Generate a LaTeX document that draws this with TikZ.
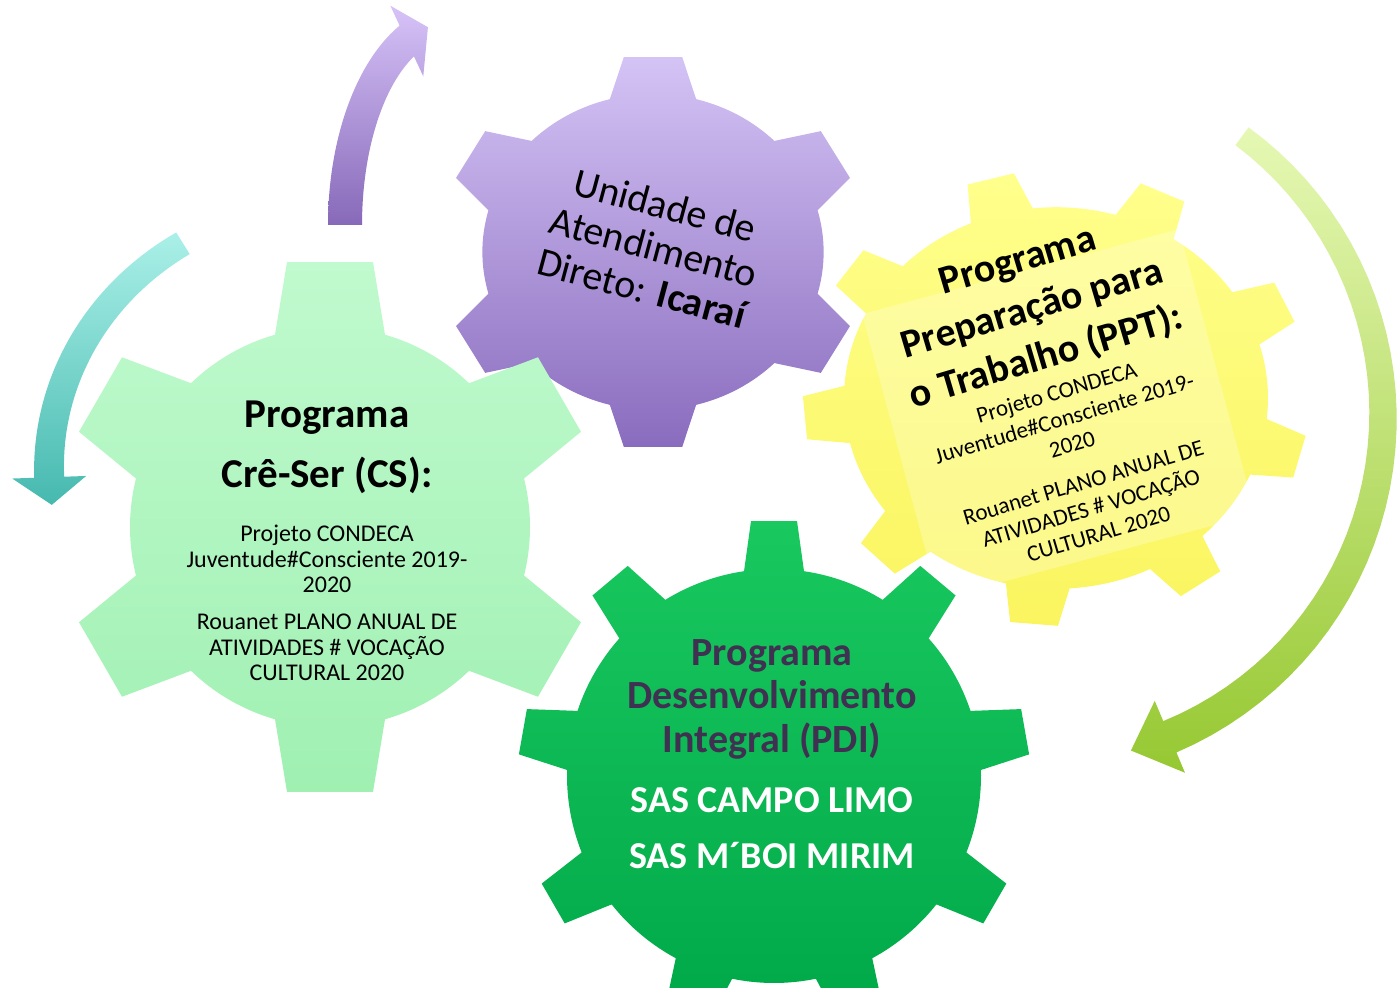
\documentclass[tikz,border=0pt]{standalone}
\usepackage{fontspec}
\setmainfont{Carlito}

\definecolor{csTop}{RGB}{192,250,206}
\definecolor{csBot}{RGB}{160,240,178}
\definecolor{puTop}{RGB}{212,195,245}
\definecolor{puBot}{RGB}{138,108,190}
\definecolor{yeTop}{RGB}{255,255,140}
\definecolor{yeBot}{RGB}{250,245,95}
\definecolor{dgTop}{RGB}{25,200,95}
\definecolor{dgBot}{RGB}{0,168,72}
\definecolor{pdiText}{RGB}{64,49,82}
\definecolor{tealTop}{RGB}{170,240,232}
\definecolor{tealBot}{RGB}{70,185,175}
\definecolor{paTop}{RGB}{215,195,248}
\definecolor{paBot}{RGB}{135,105,185}
\definecolor{lgTop}{RGB}{230,248,180}
\definecolor{lgBot}{RGB}{150,200,50}

% gear: #1 style, #2 teeth, #3 first tooth angle, #4 root radius,
% #5 tip radius, #6 half width at root, #7 half width at tip
\newcommand{\gear}[7]{%
  \pgfmathsetmacro\gearstep{360/#2}%
  \pgfmathsetmacro\gearbase{asin(#6/#4)}%
  \pgfmathsetmacro\geartip{atan(#7/#5)}%
  \pgfmathsetmacro\geartipr{veclen(#5,#7)}%
  \pgfmathtruncatemacro\gearlast{#2-1}%
  \path[#1] ({#3-\gearbase}:#4)
    \foreach \k in {0,...,\gearlast}{
      -- ({#3+\k*\gearstep-\gearbase}:#4)
      -- ({#3+\k*\gearstep-\geartip}:\geartipr)
      -- ({#3+\k*\gearstep+\geartip}:\geartipr)
      -- ({#3+\k*\gearstep+\gearbase}:#4)
      arc[start angle={#3+\k*\gearstep+\gearbase},
          end angle={#3+(\k+1)*\gearstep-\gearbase}, radius=#4]
    } -- cycle;}

% bent arrow: [#1 tail/head width ratio] #2 style, #3 x radius, #4 y radius,
% #5 tail angle, #6 head angle, #7 tip angle, #8 half width at head
\newcommand{\bentarrow}[8][1]{%
  \path[#2] plot[samples=40,domain=#5:#6,variable=\t]
      ({(#3+#8*(#1+(1-#1)*(\t-(#5))/((#6)-(#5))))*cos(\t)},
       {(#4+#8*(#1+(1-#1)*(\t-(#5))/((#6)-(#5))))*sin(\t)})
    -- ({(#3+#8+22)*cos(#6)},{(#4+#8+22)*sin(#6)})
    -- ({#3*cos(#7)},{#4*sin(#7)})
    -- ({(#3-#8-22)*cos(#6)},{(#4-#8-22)*sin(#6)})
    -- plot[samples=40,domain=#6:#5,variable=\t]
      ({(#3-#8*(#1+(1-#1)*(\t-(#5))/((#6)-(#5))))*cos(\t)},
       {(#4-#8*(#1+(1-#1)*(\t-(#5))/((#6)-(#5))))*sin(\t)})
    -- cycle;}

\begin{document}
\begin{tikzpicture}[x=0.5pt,y=0.5pt,
    gtxt/.style={align=center,inner sep=0pt},
    bigbold/.style={gtxt,font=\bfseries\fontsize{20.5pt}{30pt}\selectfont},
    smalltxt/.style={gtxt,font=\fontsize{12pt}{12.75pt}\selectfont},
    ppttxt/.style={gtxt,font=\fontsize{11.5pt}{13.5pt}\selectfont}]
  \path[use as bounding box,clip] (0,0) rectangle (1400,987);

  % arrows round the gears
  \bentarrow{shift={(452,762)},top color=paTop,bottom color=paBot}{107}{203}{180}{115}{103}{17}
  \bentarrow[0.85]{shift={(334,519)},top color=tealTop,bottom color=tealBot}{285}{265}{122}{182}{188}{15}
  \bentarrow[0.65]{shift={(1035,571)},top color=lgTop,bottom color=lgBot}{348}{348}{53.5}{-67.2}{-74}{17}

  % gears
  \gear{shift={(653,735)},xscale=1.08,top color=puTop,bottom color=puBot}{6}{90}{158}{195}{40}{27}
  \gear{shift={(1056,589)},yscale=0.9,top color=yeTop,bottom color=yeBot}{9}{25}{212}{252}{32}{24}
  \fill[white,opacity=0.25,shift={(1018,725)},rotate=15] (-164,-10) rectangle (164,-305);
  \gear{shift={(330,460)},top color=csTop,bottom color=csBot}{6}{90}{200}{265}{55}{43}
  \gear{shift={(774,211)},top color=dgTop,bottom color=dgBot}{9}{90}{207}{255}{30}{23}

  % Cre-Ser
  \node[bigbold] (cstitle) at (327,539.5) {Programa\\Crê-Ser (CS):};
  \node[smalltxt] (csone) at (327,428) {Projeto CONDECA\\Juventude\#Consciente 2019-\\2020};
  \node[smalltxt] (cstwo) at (327,339.7) {Rouanet PLANO ANUAL DE\\ATIVIDADES \# VOCAÇÃO\\CULTURAL 2020};

  % unidade
  \node[gtxt,rotate=-15,font=\fontsize{20pt}{21.5pt}\selectfont] (unidade) at (654,740)
    {Unidade de\\Atendimento\\Direto: \textbf{Icaraí}};

  % PPT
  \begin{scope}[shift={(1018,725)},rotate=16.5,transform shape]
    \node[gtxt,font=\bfseries\fontsize{20pt}{25pt}\selectfont] (ppttitle) at (0,-50.5)
      {Programa\\Preparação para\\o Trabalho (PPT):};
    \node[ppttxt] (pptone) at (0,-163)
      {Projeto CONDECA\\Juventude\#Consciente 2019-\\2020};
    \node[ppttxt] (ppttwo) at (0,-257)
      {Rouanet PLANO ANUAL DE\\ATIVIDADES \# VOCAÇÃO\\CULTURAL 2020};
  \end{scope}

  % PDI
  \node[gtxt,text=pdiText,font=\bfseries\fontsize{20pt}{21.75pt}\selectfont] (pdi) at (772,288)
    {Programa\\Desenvolvimento\\Integral (PDI)};
  \node[gtxt,text=white,font=\bfseries\fontsize{19pt}{28pt}\selectfont] (sas) at (772,159)
    {SAS CAMPO LIMO\\SAS M´BOI MIRIM};
\end{tikzpicture}
\end{document}
